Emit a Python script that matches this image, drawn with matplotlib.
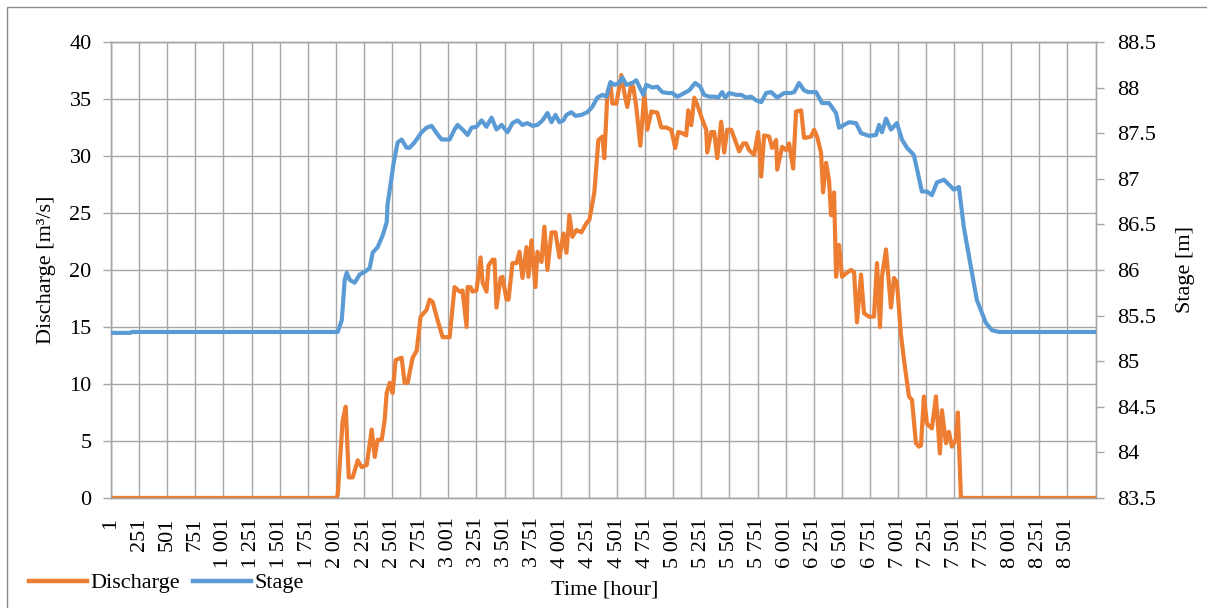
#!/usr/bin/env python3
"""Hourly discharge and stage over one year (dual axis line chart)."""

import matplotlib

matplotlib.use("Agg")
import matplotlib.pyplot as plt
from matplotlib.lines import Line2D
from matplotlib.patches import Rectangle

plt.rcParams["font.family"] = ["Liberation Serif", "DejaVu Serif"]

# ---- data ------------------------------------------------------------------
DISCHARGE_HOURS = [
    1, 2008, 2017, 2061, 2088, 2115, 2150, 2195, 2230, 2275,
    2319, 2346, 2372, 2408, 2434, 2452, 2479, 2505, 2532, 2585,
    2612, 2639, 2683, 2719, 2754, 2807, 2834, 2861, 2905, 2950,
    3012, 3056, 3101, 3127, 3163, 3172, 3198, 3216, 3251, 3287,
    3305, 3340, 3358, 3394, 3411, 3429, 3465, 3482, 3518, 3536,
    3571, 3607, 3633, 3660, 3696, 3713, 3740, 3775, 3793, 3829,
    3855, 3882, 3918, 3953, 3989, 4024, 4051, 4077, 4104, 4140,
    4184, 4228, 4255, 4299, 4335, 4371, 4388, 4415, 4442, 4459,
    4495, 4539, 4566, 4592, 4628, 4646, 4672, 4708, 4744, 4770,
    4806, 4859, 4894, 4939, 4983, 5019, 5045, 5081, 5116, 5134,
    5161, 5188, 5214, 5259, 5294, 5303, 5339, 5365, 5392, 5427,
    5454, 5481, 5516, 5543, 5587, 5623, 5649, 5676, 5720, 5756,
    5783, 5809, 5854, 5880, 5916, 5925, 5969, 6005, 6031, 6067,
    6093, 6138, 6164, 6182, 6227, 6253, 6280, 6315, 6333, 6360,
    6386, 6404, 6431, 6449, 6475, 6502, 6537, 6582, 6609, 6635,
    6671, 6697, 6742, 6786, 6813, 6839, 6857, 6893, 6937, 6964,
    6990, 7026, 7053, 7097, 7124, 7159, 7186, 7204, 7230, 7257,
    7301, 7337, 7372, 7390, 7426, 7452, 7479, 7514, 7532, 7559,
    8760,
]
DISCHARGE_VALUES = [
    0.0, 0.0, 0.3, 6.8, 8.0, 1.8, 1.8, 3.3, 2.7, 2.9,
    6.0, 3.6, 5.1, 5.1, 6.8, 9.2, 10.1, 9.2, 12.1, 12.3,
    10.1, 10.1, 12.3, 12.9, 15.9, 16.5, 17.4, 17.2, 15.6, 14.1,
    14.1, 18.5, 18.1, 18.2, 15.0, 18.5, 18.5, 18.1, 18.2, 21.1,
    18.9, 18.1, 20.4, 20.9, 20.9, 16.7, 19.3, 19.4, 17.4, 17.4,
    20.6, 20.6, 21.6, 19.3, 22.0, 19.4, 22.6, 18.5, 21.6, 20.7,
    23.8, 20.0, 23.3, 23.3, 21.1, 23.2, 21.5, 24.8, 22.9, 23.5,
    23.3, 24.1, 24.4, 26.8, 31.4, 31.7, 29.8, 35.5, 36.4, 34.6,
    34.6, 37.1, 35.5, 34.3, 36.4, 36.0, 34.3, 30.9, 35.5, 32.3,
    33.9, 33.8, 32.5, 32.5, 32.3, 30.7, 32.1, 32.0, 31.8, 34.0,
    32.7, 35.1, 34.5, 33.2, 32.3, 30.3, 32.1, 32.1, 29.8, 33.0,
    30.3, 32.3, 32.3, 31.6, 30.4, 31.1, 31.1, 30.5, 30.1, 32.1,
    28.2, 31.8, 31.7, 30.7, 31.4, 28.8, 30.8, 30.5, 31.1, 28.9,
    33.9, 34.0, 31.6, 31.6, 31.7, 32.3, 31.7, 30.3, 26.8, 29.4,
    27.9, 24.8, 26.8, 19.4, 22.2, 19.4, 19.7, 20.0, 19.8, 15.4,
    19.6, 16.2, 15.9, 15.9, 20.6, 15.0, 19.4, 21.8, 16.7, 19.3,
    18.9, 14.3, 12.1, 8.9, 8.6, 4.8, 4.5, 4.6, 8.9, 6.5,
    6.1, 8.9, 3.9, 7.7, 4.8, 5.8, 4.5, 5.1, 7.5, 0.0,
    0.0,
]

STAGE_HOURS = [
    1, 170, 188, 2017, 2053, 2079, 2097, 2124, 2168, 2212,
    2257, 2301, 2328, 2372, 2417, 2452, 2461, 2488, 2514, 2550,
    2585, 2630, 2656, 2701, 2763, 2807, 2852, 2896, 2941, 3012,
    3056, 3083, 3127, 3172, 3207, 3251, 3296, 3340, 3385, 3429,
    3474, 3527, 3571, 3616, 3660, 3704, 3749, 3793, 3838, 3882,
    3918, 3953, 3989, 4024, 4051, 4095, 4131, 4184, 4237, 4282,
    4326, 4371, 4406, 4442, 4477, 4521, 4548, 4584, 4637, 4672,
    4699, 4735, 4761, 4815, 4859, 4903, 4948, 4992, 5037, 5099,
    5143, 5196, 5241, 5276, 5321, 5365, 5401, 5436, 5463, 5498,
    5561, 5605, 5649, 5694, 5738, 5783, 5827, 5871, 5925, 5987,
    6049, 6076, 6120, 6164, 6200, 6271, 6324, 6386, 6449, 6475,
    6564, 6626, 6671, 6742, 6804, 6831, 6857, 6893, 6937, 6990,
    7035, 7079, 7141, 7212, 7257, 7301, 7346, 7408, 7497, 7541,
    7585, 7648, 7701, 7781, 7834, 7896, 8760,
]
STAGE_VALUES = [
    85.31, 85.31, 85.32, 85.32, 85.45, 85.89, 85.97, 85.89, 85.86, 85.95,
    85.98, 86.02, 86.19, 86.25, 86.38, 86.52, 86.73, 86.95, 87.17, 87.40,
    87.43, 87.34, 87.34, 87.40, 87.51, 87.56, 87.58, 87.50, 87.43, 87.43,
    87.54, 87.59, 87.54, 87.48, 87.56, 87.57, 87.64, 87.57, 87.67, 87.54,
    87.59, 87.51, 87.61, 87.64, 87.59, 87.61, 87.58, 87.59, 87.64, 87.72,
    87.62, 87.70, 87.62, 87.64, 87.70, 87.73, 87.69, 87.70, 87.73, 87.79,
    87.89, 87.92, 87.90, 88.06, 88.03, 88.05, 88.11, 88.03, 88.05, 88.08,
    88.01, 87.92, 88.03, 88.00, 88.01, 87.95, 87.94, 87.94, 87.90, 87.94,
    87.97, 88.05, 88.01, 87.92, 87.90, 87.90, 87.89, 87.95, 87.89, 87.94,
    87.92, 87.92, 87.89, 87.90, 87.86, 87.84, 87.94, 87.95, 87.89, 87.94,
    87.94, 87.95, 88.05, 87.97, 87.95, 87.95, 87.83, 87.83, 87.72, 87.56,
    87.62, 87.61, 87.50, 87.47, 87.48, 87.59, 87.51, 87.66, 87.54, 87.61,
    87.43, 87.34, 87.26, 86.86, 86.86, 86.82, 86.96, 86.99, 86.88, 86.91,
    86.47, 86.03, 85.67, 85.42, 85.34, 85.32, 85.32,
]

HOUR_TICKS = list(range(1, 8502, 250))
DISCHARGE_TICKS = list(range(0, 41, 5))
STAGE_TICKS = [83.5 + 0.5 * i for i in range(11)]

ORANGE = "#ED7D31"
BLUE = "#5B9BD5"
GRID = "#A6A6A6"
FONT_SIZE = 16


def thousands(value: int) -> str:
    return f"{value:,}".replace(",", " ")


def main() -> None:
    fig = plt.figure(figsize=(12.07, 6.08), dpi=100)
    ax = fig.add_axes([0.092, 0.181, 0.816, 0.750])
    ax2 = ax.twinx()

    ax.plot(DISCHARGE_HOURS, DISCHARGE_VALUES, color=ORANGE, lw=3.0,
            solid_joinstyle="round", zorder=3)
    ax2.plot(STAGE_HOURS, STAGE_VALUES, color=BLUE, lw=3.0,
             solid_joinstyle="round", zorder=3)

    ax.set_xlim(1, 8760)
    ax.set_ylim(0, 40)
    ax2.set_ylim(83.5, 88.5)

    ax.set_xticks(HOUR_TICKS)
    ax.set_xticklabels([thousands(h) for h in HOUR_TICKS], rotation=90,
                       fontsize=FONT_SIZE)
    ax.set_yticks(DISCHARGE_TICKS)
    ax.set_yticklabels([str(v) for v in DISCHARGE_TICKS], fontsize=FONT_SIZE)
    ax2.set_yticks(STAGE_TICKS)
    ax2.set_yticklabels([f"{v:g}" for v in STAGE_TICKS], fontsize=FONT_SIZE)

    ax.grid(True, color=GRID, lw=1.0)
    ax.set_axisbelow(True)
    ax.tick_params(axis="x", length=0, pad=14)
    ax.tick_params(axis="y", length=6, width=1.0, color=GRID, pad=8)
    ax2.tick_params(axis="y", length=6, width=1.0, color=GRID, pad=9)
    for axis in (ax, ax2):
        for spine in axis.spines.values():
            spine.set_color(GRID)
            spine.set_linewidth(1.0)

    ax.set_ylabel("Discharge [m³/s]", fontsize=FONT_SIZE)
    ax.yaxis.set_label_coords(-0.056, 0.5)
    ax2.set_ylabel("Stage [m]", fontsize=FONT_SIZE)
    ax2.yaxis.set_label_coords(1.081, 0.5)
    fig.text(0.501, 0.030, "Time [hour]", ha="center", va="center",
             fontsize=FONT_SIZE)

    handles = [
        Line2D([], [], color=ORANGE, lw=3.2),
        Line2D([], [], color=BLUE, lw=3.2),
    ]
    fig.legend(handles, ["Discharge", "Stage"], loc="center left",
               bbox_to_anchor=(0.015, 0.041), ncol=2, frameon=False,
               fontsize=FONT_SIZE, handlelength=2.6, handletextpad=0.15,
               columnspacing=0.6, borderpad=0.0)

    fig.patches.append(Rectangle((7 / 1207, -0.05), 1.2, (601 / 608) + 0.05,
                                 transform=fig.transFigure, fill=False,
                                 edgecolor="#8C8C8C", lw=1.0))

    fig.savefig("out.png", dpi=100)
    plt.close(fig)


if __name__ == "__main__":
    main()
